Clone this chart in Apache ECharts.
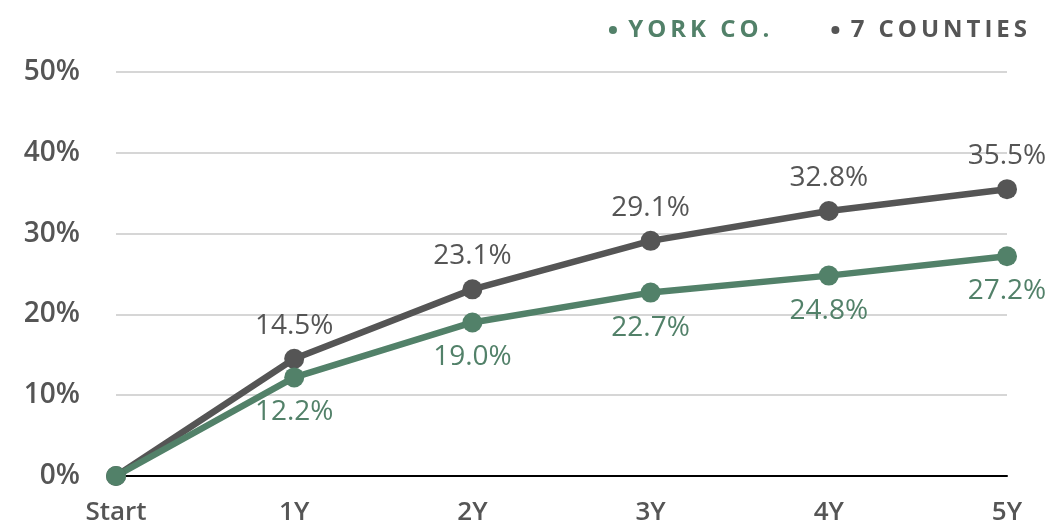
<!DOCTYPE html>
<html>
<head>
<meta charset="utf-8">
<script src="https://cdn.jsdelivr.net/npm/echarts@6/dist/echarts.min.js"></script>
<style>
  html, body { margin: 0; padding: 0; background: #fff; }
  #chart { width: 1056px; height: 523px; }
</style>
</head>
<body>
<div id="chart"></div>
<script>
const categories = ['Start', '1Y', '2Y', '3Y', '4Y', '5Y']
const yorkCo = [0, 12.2, 19.0, 22.7, 24.8, 27.2]
const sevenCounties = [0, 14.5, 23.1, 29.1, 32.8, 35.5]

const green = '#528169'
const gray = '#555555'
const font = '"Open Sans", Lato, sans-serif'

// letter-spaced legend text
const spaced = (s) => ' ' + s.split('').join('\u2009')

const pctLabel = (p) => (p.dataIndex === 0 ? '' : p.value.toFixed(1) + '%')

const chart = echarts.init(document.getElementById('chart'))
chart.setOption({
  animation: false,
  grid: { left: 116, right: 49, top: 72, bottom: 47, outerBoundsMode: 'none' },
  legend: {
    right: 24,
    top: 13,
    icon: 'circle',
    itemWidth: 8,
    itemHeight: 8,
    itemGap: 62,
    formatter: spaced,
    textStyle: { fontFamily: font, fontSize: 24, fontWeight: 'bold' },
    data: [
      { name: 'YORK CO.', textStyle: { color: green } },
      { name: '7 COUNTIES', textStyle: { color: gray } },
    ],
  },
  xAxis: {
    type: 'category',
    data: categories,
    boundaryGap: false,
    axisLine: { lineStyle: { color: '#000', width: 2 } },
    axisTick: { show: false },
    axisLabel: { color: gray, fontFamily: font, fontSize: 26, fontWeight: 600, margin: 24 },
  },
  yAxis: {
    type: 'value',
    min: 0,
    max: 50,
    interval: 10,
    axisLine: { show: false },
    axisTick: { show: false },
    splitLine: { lineStyle: { color: '#c8c8c8', width: 1.5 } },
    axisLabel: {
      color: gray,
      fontFamily: font,
      fontSize: 28,
      fontWeight: 600,
      margin: 36,
      formatter: (v) => v + '%',
    },
  },
  series: [
    {
      name: '7 COUNTIES',
      type: 'line',
      data: sevenCounties,
      color: gray,
      symbol: 'circle',
      symbolSize: 20,
      lineStyle: { width: 6.5 },
      label: {
        show: true,
        position: 'top',
        distance: 9,
        color: gray,
        fontFamily: font,
        fontSize: 28,
        formatter: pctLabel,
      },
    },
    {
      name: 'YORK CO.',
      type: 'line',
      data: yorkCo,
      color: green,
      symbol: 'circle',
      symbolSize: 20,
      lineStyle: { width: 6.5 },
      label: {
        show: true,
        position: 'bottom',
        distance: 11,
        color: green,
        fontFamily: font,
        fontSize: 28,
        formatter: pctLabel,
      },
    },
  ],
})
</script>
</body>
</html>
